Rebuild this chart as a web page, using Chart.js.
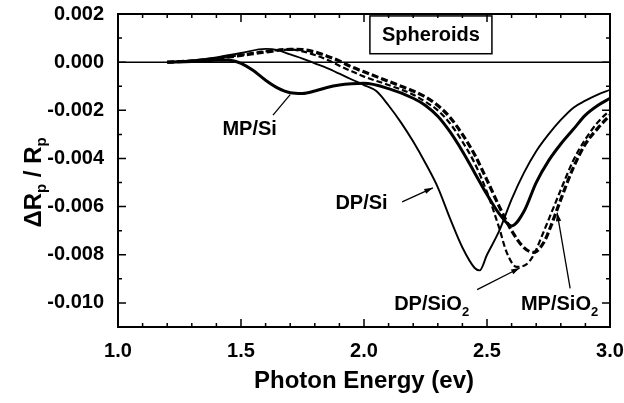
<!DOCTYPE html>
<html>
<head>
<meta charset="utf-8">
<script src="https://cdn.jsdelivr.net/npm/chart.js@4.4.1/dist/chart.umd.min.js"></script>
<style>
  html, body { margin: 0; padding: 0; background: #fff; }
</style>
</head>
<body>
<canvas id="chart" width="624" height="403"></canvas>
<script>
// photon energy (eV) and dRp/Rp values (in units of 1e-3)
const mpSiE   = [1.2, 1.3, 1.4, 1.45, 1.5, 1.55, 1.6, 1.65, 1.7, 1.75, 1.8, 1.85, 1.9, 1.95, 2.0, 2.1, 2.2, 2.25, 2.3, 2.35, 2.4, 2.45, 2.5, 2.55, 2.6, 2.65, 2.7, 2.75, 2.8, 2.85, 2.9, 2.95, 3.0];
const mpSiV   = [0, 0.03, 0.08, 0.08, -0.05, -0.35, -0.75, -1.08, -1.27, -1.3, -1.2, -1.05, -0.95, -0.9, -0.88, -1.1, -1.5, -1.8, -2.25, -2.9, -3.7, -4.6, -5.5, -6.3, -6.8, -6.2, -5.0, -4.1, -3.4, -2.8, -2.2, -1.8, -1.5];

const dpSiE   = [1.2, 1.3, 1.4, 1.5, 1.6, 1.65, 1.7, 1.75, 1.8, 1.85, 1.9, 1.95, 2.0, 2.05, 2.1, 2.15, 2.2, 2.25, 2.3, 2.35, 2.4, 2.45, 2.47, 2.5, 2.55, 2.6, 2.65, 2.7, 2.75, 2.8, 2.85, 2.9, 2.95, 3.0];
const dpSiV   = [0, 0.07, 0.2, 0.38, 0.55, 0.5, 0.32, 0.15, -0.05, -0.25, -0.48, -0.72, -0.95, -1.2, -1.8, -2.5, -3.3, -4.2, -5.2, -6.5, -7.7, -8.55, -8.65, -8.0, -7.0, -5.7, -4.6, -3.7, -3.0, -2.4, -1.9, -1.6, -1.35, -1.15];

const dpSiO2E = [1.2, 1.3, 1.4, 1.5, 1.6, 1.7, 1.75, 1.8, 1.85, 1.9, 1.95, 2.0, 2.1, 2.2, 2.25, 2.3, 2.35, 2.4, 2.45, 2.5, 2.55, 2.58, 2.62, 2.66, 2.69, 2.72, 2.76, 2.8, 2.85, 2.9, 2.95, 3.0];
const dpSiO2V = [0, 0.05, 0.15, 0.3, 0.45, 0.52, 0.45, 0.3, 0.1, -0.15, -0.38, -0.6, -0.95, -1.35, -1.65, -2.0, -2.55, -3.3, -4.2, -5.4, -6.9, -7.9, -8.5, -8.4, -8.0, -7.3, -6.3, -5.3, -4.1, -3.2, -2.5, -2.0];

const mpSiO2E = [1.2, 1.3, 1.4, 1.5, 1.6, 1.7, 1.75, 1.8, 1.85, 1.9, 1.95, 2.0, 2.1, 2.2, 2.25, 2.3, 2.35, 2.4, 2.45, 2.5, 2.55, 2.6, 2.65, 2.69, 2.73, 2.76, 2.8, 2.85, 2.9, 2.95, 3.0];
const mpSiO2V = [0, 0.05, 0.15, 0.28, 0.42, 0.53, 0.52, 0.42, 0.25, 0.05, -0.2, -0.4, -0.8, -1.2, -1.45, -1.8, -2.3, -3.0, -3.85, -4.9, -6.0, -7.0, -7.7, -7.9, -7.5, -6.8, -5.7, -4.4, -3.4, -2.75, -2.2];

// axis ticks
const xTicks = [1.0, 1.5, 2.0, 2.5, 3.0];
const yTicks = [0.002, 0.0, -0.002, -0.004, -0.006, -0.008, -0.010];

const FONT = '"Liberation Sans", Arial, sans-serif';

function pts(es, vs) {
    return es.map((e, i) => ({ x: e, y: vs[i] * 1e-3 }));
}

// labels on the plot, placed in data units (energy, value*1e3)
const notes = [
    { text: 'MP/Si', sub: '', x: 1.535, y: -2.8, from: [1.63, -2.2], to: [1.70, -1.35], head: false },
    { text: 'DP/Si', sub: '', x: 1.99, y: -5.85, from: [2.155, -5.8], to: [2.28, -5.22], head: true },
    { text: 'DP/SiO', sub: '2', x: 2.275, y: -10.05, from: [2.46, -9.45], to: [2.633, -8.55], head: true },
    { text: 'MP/SiO', sub: '2', x: 2.795, y: -10.05, from: [2.838, -9.4], to: [2.785, -6.25], head: true }
];

const framePlugin = {
    id: 'frame',
    beforeDatasetsDraw(chart) {
        const { ctx, chartArea: a, scales: { x, y } } = chart;
        ctx.save();
        // zero line
        ctx.strokeStyle = '#000';
        ctx.lineWidth = 1.5;
        ctx.beginPath();
        ctx.moveTo(a.left, y.getPixelForValue(0));
        ctx.lineTo(a.right, y.getPixelForValue(0));
        ctx.stroke();

        // Spheroids box
        const bx1 = x.getPixelForValue(2.024), bx2 = x.getPixelForValue(2.52);
        const by1 = y.getPixelForValue(0.00192), by2 = y.getPixelForValue(0.00035);
        ctx.lineWidth = 1.5;
        ctx.strokeRect(bx1, by1, bx2 - bx1, by2 - by1);
        ctx.fillStyle = '#000';
        ctx.font = 'bold 20px ' + FONT;
        ctx.textAlign = 'center';
        ctx.textBaseline = 'middle';
        ctx.fillText('Spheroids', (bx1 + bx2) / 2, (by1 + by2) / 2 + 1);
        ctx.restore();
    },
    afterDatasetsDraw(chart) {
        const { ctx, chartArea: a, scales: { x, y } } = chart;
        ctx.save();
        ctx.strokeStyle = '#000';
        ctx.fillStyle = '#000';

        // inward ticks on all four sides
        ctx.lineWidth = 1.5;
        ctx.beginPath();
        for (let i = 10; i <= 30; i++) {
            const px = x.getPixelForValue(i / 10);
            const len = i % 5 === 0 ? 8 : 4;
            ctx.moveTo(px, a.bottom); ctx.lineTo(px, a.bottom - len);
            ctx.moveTo(px, a.top); ctx.lineTo(px, a.top + len);
        }
        for (let j = -11; j <= 2; j++) {
            const py = y.getPixelForValue(j / 1000);
            const len = j % 2 === 0 ? 8 : 4;
            ctx.moveTo(a.left, py); ctx.lineTo(a.left + len, py);
            ctx.moveTo(a.right, py); ctx.lineTo(a.right - len, py);
        }
        ctx.stroke();

        // frame
        ctx.lineWidth = 2;
        ctx.strokeRect(a.left, a.top, a.right - a.left, a.bottom - a.top);

        // curve labels with pointer lines
        notes.forEach(n => {
            const cx = x.getPixelForValue(n.x), cy = y.getPixelForValue(n.y * 1e-3);
            ctx.font = 'bold 20px ' + FONT;
            const w1 = ctx.measureText(n.text).width;
            ctx.font = 'bold 13px ' + FONT;
            const w2 = n.sub ? ctx.measureText(n.sub).width : 0;
            const sx = cx - (w1 + w2) / 2;
            ctx.textAlign = 'left';
            ctx.textBaseline = 'middle';
            ctx.font = 'bold 20px ' + FONT;
            ctx.fillText(n.text, sx, cy);
            if (n.sub) {
                ctx.font = 'bold 13px ' + FONT;
                ctx.fillText(n.sub, sx + w1, cy + 8);
            }
            const x0 = x.getPixelForValue(n.from[0]), y0 = y.getPixelForValue(n.from[1] * 1e-3);
            const x1 = x.getPixelForValue(n.to[0]), y1 = y.getPixelForValue(n.to[1] * 1e-3);
            ctx.lineWidth = 1.3;
            ctx.beginPath();
            ctx.moveTo(x0, y0);
            ctx.lineTo(x1, y1);
            ctx.stroke();
            if (n.head) {
                const ang = Math.atan2(y1 - y0, x1 - x0);
                ctx.beginPath();
                ctx.moveTo(x1, y1);
                ctx.lineTo(x1 - 9 * Math.cos(ang - 0.3), y1 - 9 * Math.sin(ang - 0.3));
                ctx.lineTo(x1 - 9 * Math.cos(ang + 0.3), y1 - 9 * Math.sin(ang + 0.3));
                ctx.closePath();
                ctx.fill();
            }
        });

        // axis titles
        ctx.textBaseline = 'middle';
        ctx.textAlign = 'center';
        ctx.font = 'bold 24px ' + FONT;
        ctx.fillText('Photon Energy (ev)', (a.left + a.right) / 2, 381);

        ctx.translate(34, (a.top + a.bottom) / 2 + 12);
        ctx.rotate(-Math.PI / 2);
        const parts = [['\u0394R', 24, 0], ['p', 15, 8], [' / R', 24, 0], ['p', 15, 8]];
        let total = 0;
        parts.forEach(p => { ctx.font = 'bold ' + p[1] + 'px ' + FONT; total += ctx.measureText(p[0]).width; });
        let px = -total / 2;
        ctx.textAlign = 'left';
        parts.forEach(p => {
            ctx.font = 'bold ' + p[1] + 'px ' + FONT;
            ctx.fillText(p[0], px, p[2]);
            px += ctx.measureText(p[0]).width;
        });
        ctx.restore();
    }
};

const ctx = document.getElementById('chart').getContext('2d');
const chart = new Chart(ctx, {
    type: 'line',
    data: {
        datasets: [
            { label: 'MP/Si', data: pts(mpSiE, mpSiV), borderColor: '#000', borderWidth: 3 },
            { label: 'DP/Si', data: pts(dpSiE, dpSiV), borderColor: '#000', borderWidth: 1.9 },
            { label: 'DP/SiO2', data: pts(dpSiO2E, dpSiO2V), borderColor: '#000', borderWidth: 2.2, borderDash: [6, 3] },
            { label: 'MP/SiO2', data: pts(mpSiO2E, mpSiO2V), borderColor: '#000', borderWidth: 3.2, borderDash: [7, 3] }
        ]
    },
    options: {
        responsive: false,
        animation: false,
        devicePixelRatio: 1,
        layout: { padding: { top: 14, right: 14, left: 0, bottom: 0 } },
        elements: {
            point: { radius: 0 },
            line: { cubicInterpolationMode: 'monotone', fill: false }
        },
        plugins: {
            legend: { display: false },
            tooltip: { enabled: false }
        },
        scales: {
            x: {
                type: 'linear',
                min: 1.0,
                max: 3.0,
                grid: { display: false },
                border: { display: false },
                afterBuildTicks: s => { s.ticks = xTicks.map(v => ({ value: v })); },
                afterFit: s => { s.height = 76; s.paddingLeft = 0; s.paddingRight = 0; },
                ticks: {
                    color: '#000',
                    padding: 4,
                    maxRotation: 0,
                    font: { family: FONT, size: 20, weight: 'bold' },
                    callback: v => v.toFixed(1)
                }
            },
            y: {
                type: 'linear',
                min: -0.011,
                max: 0.002,
                grid: { display: false },
                border: { display: false },
                afterBuildTicks: s => { s.ticks = yTicks.map(v => ({ value: v })); },
                afterFit: s => { s.width = 118; s.paddingTop = 0; s.paddingBottom = 0; },
                ticks: {
                    color: '#000',
                    padding: 6,
                    font: { family: FONT, size: 20, weight: 'bold' },
                    callback: v => v.toFixed(3)
                }
            }
        }
    },
    plugins: [framePlugin]
});
</script>
</body>
</html>
